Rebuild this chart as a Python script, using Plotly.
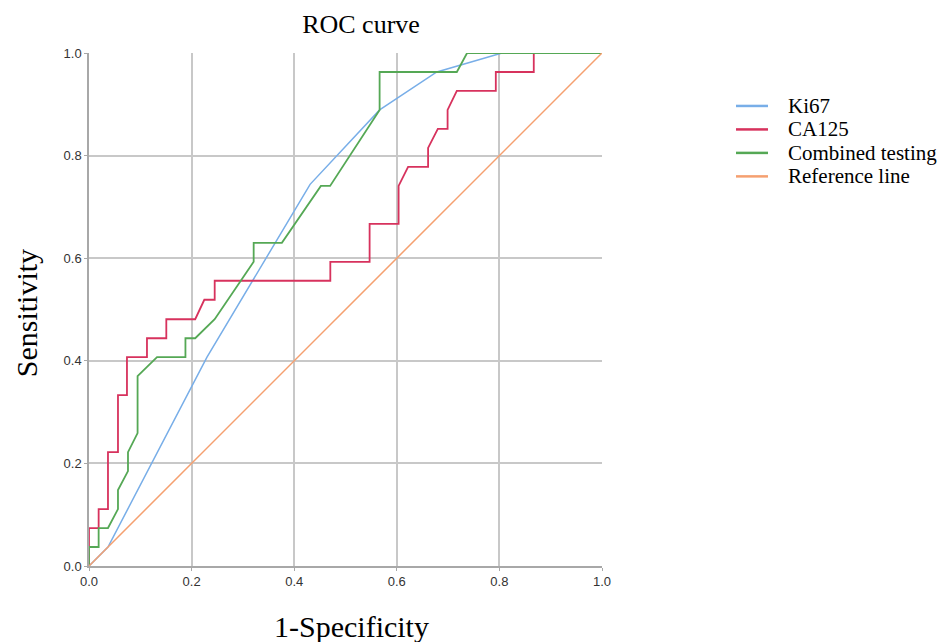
import plotly.graph_objects as go

# ---------------- data ----------------
series_names = ["Ki67", "CA125", "Combined testing", "Reference line"]

ki67_fpr = [0, 0.037, 0.23, 0.431, 0.5665, 0.678, 0.805, 1.0]
ki67_tpr = [0, 0.037, 0.407, 0.744, 0.889, 0.963, 1.0, 1.0]

ca125_fpr = [0, 0, 0.0188, 0.0188, 0.037, 0.037, 0.0565, 0.0565, 0.074, 0.074,
             0.113, 0.113, 0.1507, 0.1507, 0.207, 0.2248, 0.245, 0.245, 0.4704, 0.4704,
             0.547, 0.547, 0.6035, 0.6035, 0.622, 0.661, 0.661, 0.680, 0.699, 0.699,
             0.717, 0.793, 0.793, 0.867, 0.867, 1.0]
ca125_tpr = [0, 0.074, 0.074, 0.111, 0.111, 0.222, 0.222, 0.333, 0.333, 0.407,
             0.407, 0.444, 0.444, 0.481, 0.481, 0.519, 0.519, 0.556, 0.556, 0.593,
             0.593, 0.667, 0.667, 0.741, 0.778, 0.778, 0.815, 0.852, 0.852, 0.889,
             0.926, 0.926, 0.963, 0.963, 1.0, 1.0]

comb_fpr = [0, 0, 0.0188, 0.0188, 0.037, 0.0565, 0.0565, 0.076, 0.076, 0.0947,
            0.0947, 0.1326, 0.188, 0.188, 0.207, 0.245, 0.321, 0.321, 0.376, 0.452,
            0.470, 0.5665, 0.5665, 0.717, 0.737, 1.0]
comb_tpr = [0, 0.037, 0.037, 0.074, 0.074, 0.111, 0.148, 0.185, 0.222, 0.259,
            0.370, 0.407, 0.407, 0.444, 0.444, 0.481, 0.593, 0.630, 0.630, 0.741,
            0.741, 0.889, 0.963, 0.963, 1.0, 1.0]

ref_fpr = [0, 1]
ref_tpr = [0, 1]

tick_vals = [0.0, 0.2, 0.4, 0.6, 0.8, 1.0]
tick_text = ["0.0", "0.2", "0.4", "0.6", "0.8", "1.0"]

colors = ["#78aee8", "#d7325d", "#55a855", "#f5a070"]
widths = [1.5, 1.8, 1.8, 1.5]

# ---------------- figure ----------------
OFF = 8                      # default body margin of the html page
W, H = 949 - OFF, 642 - OFF  # figure size so that it fits the window
# plot-area box in page pixels
PL, PR, PT, PB = 89, 602, 53, 566.5


def px_x(p):
    return (p - PL) / (PR - PL)


def px_y(p):
    return (PB - p) / (PB - PT)


fig = go.Figure()
xs = [ki67_fpr, ca125_fpr, comb_fpr, ref_fpr]
ys = [ki67_tpr, ca125_tpr, comb_tpr, ref_tpr]
for name, x, y, c, w in zip(series_names, xs, ys, colors, widths):
    fig.add_trace(go.Scatter(x=x, y=y, mode="lines", name=name,
                             line=dict(color=c, width=w), showlegend=False))

axis_common = dict(
    range=[0, 1], tickvals=tick_vals, ticktext=tick_text,
    showgrid=True, gridcolor="#c8c8c8", gridwidth=1.5,
    showline=True, linecolor="#a8a8a8", linewidth=1.5,
    ticks="outside", ticklen=3, tickcolor="#a8a8a8",
    tickfont=dict(family="Liberation Sans, Arial", size=13, color="#333333"),
    zeroline=False, fixedrange=True,
)

fig.update_layout(
    width=W, height=H,
    margin=dict(l=PL - OFF, r=W - (PR - OFF), t=PT - OFF, b=H - (PB - OFF), pad=0),
    paper_bgcolor="white", plot_bgcolor="white",
    xaxis=axis_common, yaxis=axis_common,
    title=dict(text="ROC curve", x=(361 - OFF) / W, xanchor="center",
               y=1 - (24 - OFF) / H, yanchor="middle",
               font=dict(family="Liberation Serif, Times New Roman", size=26, color="black")),
    showlegend=False,
)

serif = "Liberation Serif, Times New Roman"
annotations = [
    dict(text="1-Specificity", x=px_x(351.5), y=px_y(627), xref="paper", yref="paper",
         xanchor="center", yanchor="middle", showarrow=False,
         font=dict(family=serif, size=30, color="black")),
    dict(text="Sensitivity", x=px_x(26), y=px_y(313.5), xref="paper", yref="paper",
         xanchor="center", yanchor="middle", showarrow=False, textangle=-90,
         font=dict(family=serif, size=30, color="black")),
]
shapes = []
legend_rows_px = [106, 129.5, 153, 176.5]
for name, c, ypx in zip(series_names, colors, legend_rows_px):
    shapes.append(dict(type="line", xref="paper", yref="paper",
                       x0=px_x(736), x1=px_x(768), y0=px_y(ypx), y1=px_y(ypx),
                       line=dict(color=c, width=2.5)))
    annotations.append(dict(text=name, x=px_x(786), y=px_y(ypx), xref="paper", yref="paper",
                            xanchor="left", yanchor="middle", showarrow=False,
                            font=dict(family=serif, size=21, color="black")))

fig.update_layout(annotations=annotations, shapes=shapes)

fig.write_html("out.html", config={"displayModeBar": False})
